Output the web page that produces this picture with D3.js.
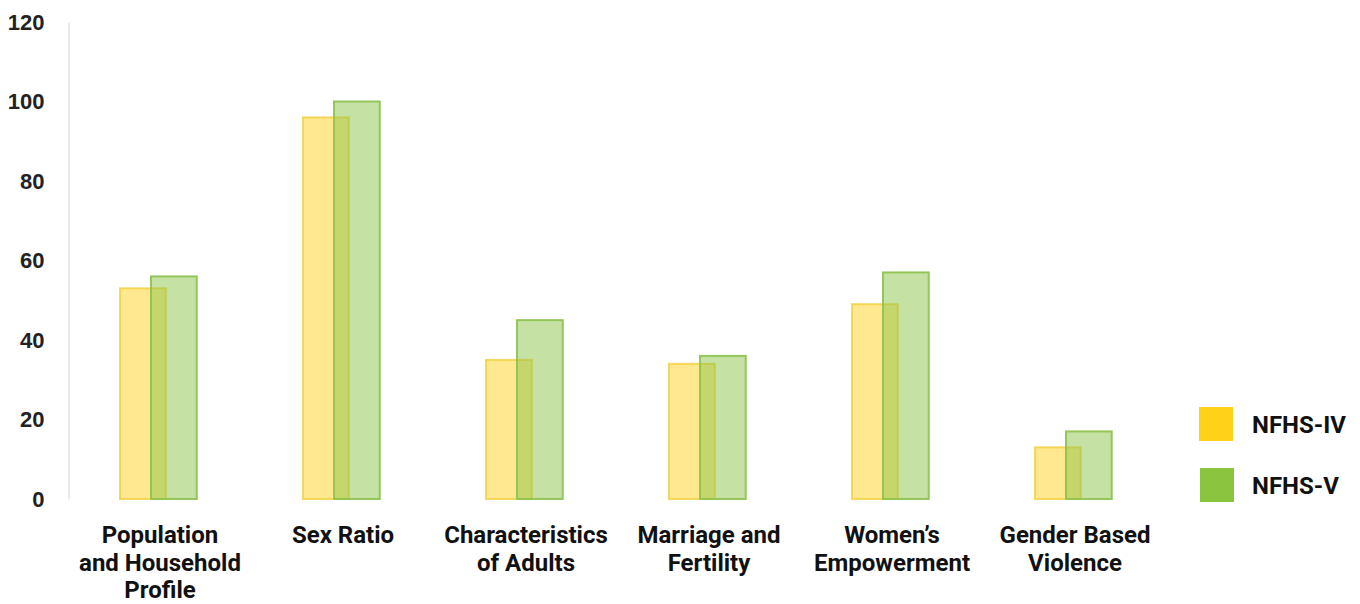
<!DOCTYPE html>
<html>
<head>
<meta charset="utf-8">
<script src="https://cdn.jsdelivr.net/npm/d3@7/dist/d3.min.js"></script>
<style>
  html, body { margin: 0; padding: 0; background: #fff; }
  svg { display: block; font-family: Roboto, "Noto Sans", sans-serif; }
</style>
</head>
<body>
<svg id="chart" width="1360" height="604"></svg>
<script>
// NFHS-IV vs NFHS-V comparison by survey section
const categories = [
  ["Population", "and Household", "Profile"],
  ["Sex Ratio"],
  ["Characteristics", "of Adults"],
  ["Marriage and", "Fertility"],
  ["Women’s", "Empowerment"],
  ["Gender Based", "Violence"]
];
const nfhs4 = [53, 96, 35, 34, 49, 13];
const nfhs5 = [56, 100, 45, 36, 57, 17];
const yTicks = [0, 20, 40, 60, 80, 100, 120];
const seriesNames = ["NFHS-IV", "NFHS-V"];

const svg = d3.select("#chart");

const x = d3.scaleBand()
  .domain(d3.range(categories.length))
  .range([68.5, 1166.5])
  .paddingInner(0)
  .paddingOuter(0);

const y = d3.scaleLinear()
  .domain([0, 120])
  .range([499, 22]);

const bw = x.bandwidth();
const barW = bw * 0.25;

// y axis: plain light line, bold tick labels, no tick marks
const yAxis = d3.axisLeft(y).tickValues(yTicks).tickSize(0).tickPadding(24);
const gy = svg.append("g").attr("transform", "translate(68.5,0)").call(yAxis);
gy.select(".domain").attr("stroke", "#dcdcdc").attr("stroke-width", 1.2);
gy.selectAll("text")
  .attr("font-size", 22)
  .attr("font-weight", 700)
  .attr("fill", "#222");

// bars: NFHS-IV first, NFHS-V overlapping to the right
const yellowFill = "#FFD21F", yellowStroke = "#F2D03C";
const greenFill = "#8BC34A", greenStroke = "#8CC24E";

const g = svg.append("g");

g.selectAll("rect.iv")
  .data(nfhs4)
  .join("rect")
  .attr("class", "iv")
  .attr("x", (d, i) => x(i) + bw / 2 - 40)
  .attr("y", d => y(d))
  .attr("width", barW)
  .attr("height", d => y(0) - y(d))
  .attr("fill", yellowFill)
  .attr("fill-opacity", 0.5)
  .attr("stroke", yellowStroke)
  .attr("stroke-opacity", 0.8)
  .attr("stroke-width", 2);

g.selectAll("rect.v")
  .data(nfhs5)
  .join("rect")
  .attr("class", "v")
  .attr("x", (d, i) => x(i) + bw / 2 - 9)
  .attr("y", d => y(d))
  .attr("width", barW)
  .attr("height", d => y(0) - y(d))
  .attr("fill", greenFill)
  .attr("fill-opacity", 0.5)
  .attr("stroke", greenStroke)
  .attr("stroke-opacity", 0.9)
  .attr("stroke-width", 2);

// category labels, multi-line, centred under each group
const labels = svg.append("g")
  .attr("font-size", 24)
  .attr("font-weight", 700)
  .attr("fill", "#111")
  .attr("text-anchor", "middle");

categories.forEach((lines, i) => {
  const t = labels.append("text")
    .attr("x", x(i) + bw / 2)
    .attr("y", 543);
  lines.forEach((ln, k) => {
    t.append("tspan")
      .attr("x", x(i) + bw / 2)
      .attr("dy", k === 0 ? 0 : 27.5)
      .text(ln);
  });
});

// legend
const legend = svg.append("g");
const legendColors = ["#FFD118", "#8BC540"];
seriesNames.forEach((name, i) => {
  const ly = 407 + i * 61;
  legend.append("rect")
    .attr("x", 1199 + i)
    .attr("y", ly)
    .attr("width", 34)
    .attr("height", 34)
    .attr("fill", legendColors[i]);
  legend.append("text")
    .attr("x", 1252)
    .attr("y", ly + 17)
    .attr("dy", "0.36em")
    .attr("font-size", 24)
    .attr("font-weight", 700)
    .attr("fill", "#111")
    .text(name);
});
</script>
</body>
</html>
